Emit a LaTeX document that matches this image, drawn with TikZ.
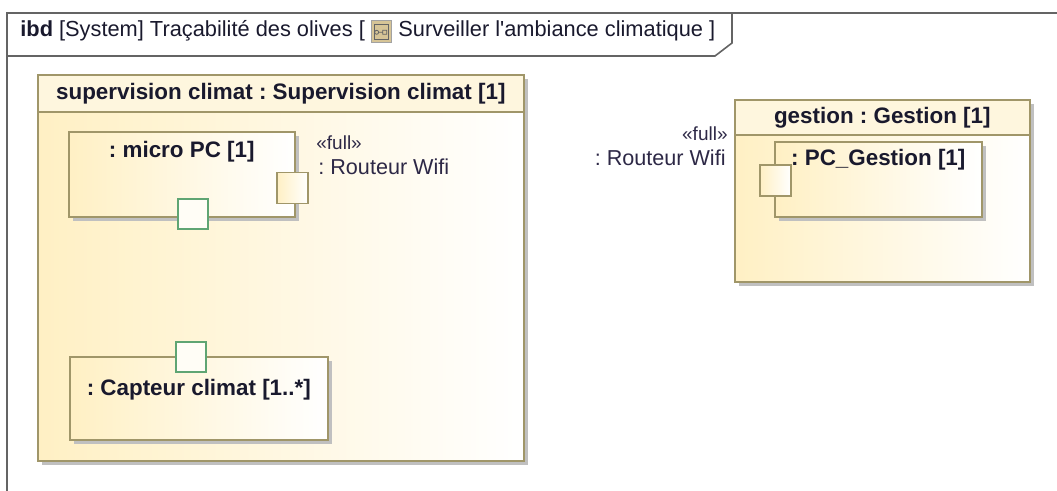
\documentclass[tikz,border=0pt]{standalone}
\usepackage{fontspec}
\setmainfont{Liberation Sans}
\usetikzlibrary{positioning, calc, shadows}
\frenchspacing
\definecolor{IBDLine}{RGB}{160,150,105}
\definecolor{IBDFill}{RGB}{255,240,196}
\definecolor{IBDHead}{RGB}{254,246,222}
\definecolor{IBDShadow}{RGB}{192,192,192}
\definecolor{IBDPort}{RGB}{95,165,115}
\definecolor{IBDFrame}{RGB}{100,100,100}
\definecolor{IBDText}{RGB}{25,25,45}
\definecolor{IBDLabel}{RGB}{45,40,70}
\definecolor{IBDIcon}{RGB}{214,196,150}
\tikzset{
  block/.style={
    rectangle, anchor=north west, inner sep=0pt,
    draw=IBDLine, line width=0.8pt,
    left color=IBDFill, middle color=IBDFill!55!white, right color=white,
    drop shadow={shadow xshift=2pt, shadow yshift=-2pt, fill=IBDShadow, opacity=1}
  },
  head/.style={
    rectangle, anchor=north west, inner sep=0pt,
    draw=IBDLine, line width=0.8pt, fill=IBDHead,
    font=\fontsize{11.2}{13}\selectfont\bfseries, text=IBDText
  },
  port/.style={
    rectangle, minimum size=15.5pt, inner sep=0pt,
    draw=IBDLine, line width=0.8pt,
    left color=IBDFill, right color=white
  },
  gport/.style={
    rectangle, minimum size=15pt, inner sep=0pt,
    draw=IBDPort, line width=1pt, fill=IBDFill!15!white
  },
  ptitle/.style={anchor=base, inner sep=0pt, font=\fontsize{11.2}{13}\selectfont\bfseries, text=IBDText},
  lbl/.style={inner sep=0pt, font=\fontsize{10.8}{13}\selectfont, text=IBDLabel},
  stereo/.style={inner sep=0pt, font=\fontsize{9.5}{11}\selectfont, text=IBDLabel},
  frame/.style={draw=IBDFrame, line width=0.8pt},
  tabicon/.style={
    rectangle, minimum width=10pt, minimum height=11pt, inner sep=0pt,
    fill=IBDIcon, draw=IBDFrame!60, line width=0.4pt,
    path picture={
      \draw[IBDFrame, line width=0.4pt]
        ($(path picture bounding box.south west)+(3,-3)$) rectangle ($(path picture bounding box.north east)+(-3,4)$);
      \draw[IBDFrame, line width=0.4pt]
        ($(path picture bounding box.center)+(-5,1)$) circle[radius=1pt]
        ($(path picture bounding box.center)+(-3,1)$) -- ($(path picture bounding box.center)+(1,1)$)
        ($(path picture bounding box.center)+(1,-1)$) rectangle ($(path picture bounding box.center)+(5,3)$);
    }
  }
}
\begin{document}
\begin{tikzpicture}[x=0.5pt, y=-0.5pt, font=\fontsize{10.9}{13}\selectfont]
  \useasboundingbox (0,0) rectangle (1057,491);

  % frame and its tab
  \draw[frame] (1057,13) -- (7,13) -- (7,491);
  \draw[frame] (7,56) -- (715,56) -- (732,43) -- (732,13);
  \node[anchor=base west, inner sep=0pt, text=IBDText]
    (ttl) at (20,37) {\textbf{ibd} [System] Traçabilité des olives [};
  \node[tabicon, right=3pt of ttl] (ttlicon) {};
  \node[anchor=base west, inner sep=0pt, text=IBDText]
    (ttlb) at ($(ttlicon.east |- ttl.base)+(6,0)$) {Surveiller l\textquotesingle ambiance climatique ]};

  % supervision climat
  \node[block, minimum width=243pt, minimum height=193pt] (sup) at (37,74) {};
  \node[head, minimum width=243pt, minimum height=18.5pt] (suphd) at (37,74)
    {supervision climat : Supervision climat [1]};

  \node[block, minimum width=113pt, minimum height=42.5pt] (micropc) at (68,131) {};
  \node[ptitle] (micropct) at ($(micropc.north)+(0,27)$) {: micro PC [1]};
  \node[block, minimum width=129pt, minimum height=41.5pt] (capteur) at (69,356) {};
  \node[ptitle] (capteurt) at ($(capteur.north)+(0,40)$) {: Capteur climat [1..*]};

  \node[port] (wifiA) at (292.5,188) {};
  \node[gport] (climA) at (192.5,214) {};
  \node[gport] (climB) at (190.5,357) {};
  \node[stereo, anchor=base west] (wifiAst) at (316,150) {«full»};
  \node[lbl, anchor=base west] (wifiAnm) at (318,175) {: Routeur Wifi};

  % gestion
  \node[block, minimum width=147.5pt, minimum height=91pt] (gest) at (734,99) {};
  \node[head, minimum width=147.5pt, minimum height=17.5pt] (gesthd) at (734,99)
    {gestion : Gestion [1]};
  \node[block, minimum width=103.5pt, minimum height=37.5pt] (pcgest) at (774,141) {};
  \node[ptitle] (pcgestt) at ($(pcgest.north)+(0,25)$) {: PC\_Gestion [1]};

  \node[port] (wifiB) at (775.5,180.5) {};
  \node[stereo, anchor=base east] (wifiBst) at (728,141) {«full»};
  \node[lbl, anchor=base east] (wifiBnm) at (726,166) {: Routeur Wifi};
\end{tikzpicture}
\end{document}
